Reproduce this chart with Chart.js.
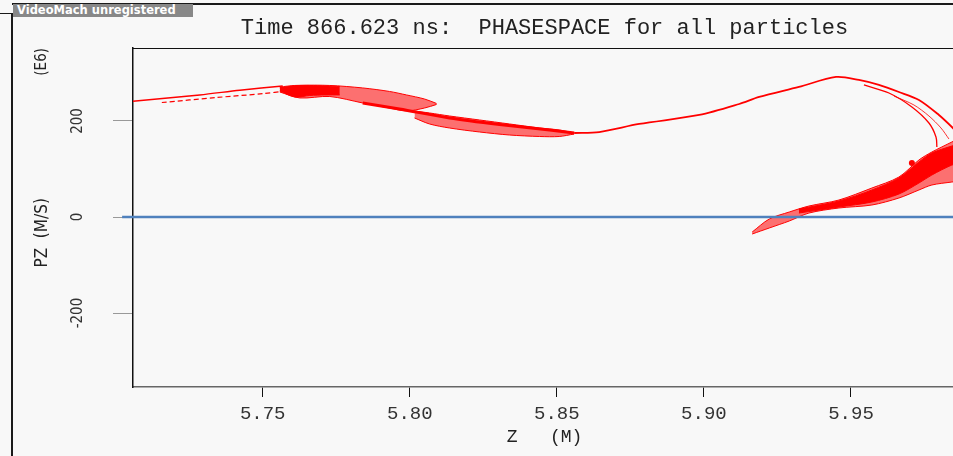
<!DOCTYPE html>
<html lang="en">
<head>
    <meta charset="UTF-8">
    <title>PHASESPACE for all particles</title>
    <script src="https://cdn.jsdelivr.net/npm/chart.js"></script>
    <style>
        body { margin: 0; background: #f8f8f8; overflow: hidden; width: 953px; height: 456px; }
        #box { position: absolute; left: 0; top: 0; width: 960px; height: 456px; }
        .linha { position: absolute; background: #1a1a1a; }
        #marca { position: absolute; left: 13px; top: 4px; width: 176px; height: 13px; padding-left: 4px;
                 background: #888; color: #fff; font: bold 11.5px "DejaVu Sans", sans-serif; line-height: 13px; white-space: nowrap; overflow: hidden; }
    </style>
</head>
<body>
    <div id="box"><canvas id="grafico"></canvas></div>
    <div class="linha" style="left:12px; top:3px; width:941px; height:2px"></div>
    <div class="linha" style="left:11px; top:13px; width:2px; height:443px"></div>
    <div class="linha" style="left:0; top:13px; width:12px; height:1px"></div>
    <div id="marca">VideoMach unregistered</div>

<script>
    const xTicks = [5.75, 5.80, 5.85, 5.90, 5.95];
    const xTickLabels = ['5.75', '5.80', '5.85', '5.90', '5.95'];
    const yTicks = [-200, 0, 200];
    const yTickLabels = ['-200', '0', '200'];

    // PZ = 0 reference line
    const zeroX = [5.7022, 5.9900];
    const zeroY = [0, 0];

    // thin tails on the left
    const tailUpperX = [5.7050, 5.7286, 5.7422, 5.7568];
    const tailUpperY = [240.5, 254.2, 264.0, 273.0];
    const tailLowerX = [5.7157, 5.7344, 5.7503, 5.7578];
    const tailLowerY = [238.5, 249.0, 257.0, 262.5];

    // first bunch (upper lobe)
    const lobeAX = [5.7558, 5.7626, 5.7728, 5.7840, 5.7931, 5.7989, 5.8050, 5.8091];
    const lobeATop = [268.8, 274.0, 274.0, 268.8, 261.5, 254.2, 245.8, 236.5];
    const lobeABot = [260.4, 248.0, 251.0, 237.5, 227.0, 220.8, 227.0, 234.4];
    const coreAX = [5.7558, 5.7609, 5.7660, 5.7711, 5.7762];
    const coreATop = [270.8, 274.0, 274.0, 273.0, 271.9];
    const coreABot = [262.5, 250.0, 253.1, 254.2, 254.2];

    // second bunch (lower lobe)
    const lobeBX = [5.8016, 5.8067, 5.8135, 5.8237, 5.8339, 5.8441, 5.8508, 5.8559];
    const lobeBTop = [220.8, 216.7, 210.4, 202.1, 193.8, 185.4, 181.3, 175.0];
    const lobeBBot = [206.3, 193.8, 185.4, 177.1, 170.8, 167.7, 167.7, 172.9];

    // dense line between the bunches, then the long arc over the top
    const diagX = [5.7840, 5.7965, 5.8135, 5.8305, 5.8475, 5.8559];
    const diagY = [237.5, 225.0, 206.3, 192.7, 181.3, 175.0];
    const arcX = [5.8559, 5.8644, 5.8780, 5.8984, 5.9120, 5.9188, 5.9323, 5.9449, 5.9527, 5.9595, 5.9663, 5.9731, 5.9799, 5.9843, 5.9870];
    const arcY = [175.0, 177.0, 193.8, 212.5, 235.4, 250.0, 270.8, 291.7, 285.4, 275.0, 260.4, 243.8, 212.5, 187.5, 170.0];
    const hook1X = [5.9544, 5.9629, 5.9707, 5.9765, 5.9789, 5.9792];
    const hook1Y = [275.0, 258.3, 229.2, 195.8, 166.7, 145.8];
    const hook2X = [5.9646, 5.9714, 5.9765, 5.9806, 5.9833];
    const hook2Y = [252.0, 233.3, 210.4, 185.4, 162.5];

    // cloud on the right
    const cloudX = [5.9164, 5.9222, 5.9290, 5.9357, 5.9459, 5.9571, 5.9663, 5.9731, 5.9775, 5.9843, 5.9870];
    const cloudTop = [-31.3, -4.2, 10.4, 22.9, 35.4, 60.4, 83.3, 118.8, 135.4, 156.3, 165.0];
    const cloudBot = [-35.4, -22.9, -8.3, 8.3, 18.8, 25.0, 39.6, 56.3, 66.7, 72.9, 75.0];
    const coreX = [5.9323, 5.9459, 5.9571, 5.9663, 5.9731, 5.9775, 5.9843, 5.9870];
    const coreTop = [16.7, 33.3, 56.3, 81.3, 114.6, 133.3, 147.9, 152.0];
    const coreBot = [8.3, 20.8, 31.3, 47.9, 70.8, 87.5, 108.3, 112.0];
    const bumpX = [5.9707];
    const bumpY = [112.5];

    const vermelho = '#ff0000';
    const hachura = 'rgba(255, 0, 0, 0.55)';
    const estreita = '"Liberation Sans Narrow", "DejaVu Sans Condensed", "DejaVu Sans", sans-serif';
    const mono = '"Liberation Mono", "DejaVu Sans Mono", monospace';

    function pontos(xs, ys) {
        return xs.map((x, i) => ({ x: x, y: ys[i] }));
    }

    function serie(xs, ys, extra) {
        return Object.assign({
            data: pontos(xs, ys),
            xAxisID: 'x',
            yAxisID: 'y',
            borderColor: vermelho,
            borderWidth: 1,
            pointRadius: 0,
            tension: 0.3,
            fill: false
        }, extra);
    }

    const datasets = [
        serie(zeroX, zeroY, { borderColor: '#4f81bd', borderWidth: 2.5, tension: 0, clip: { left: 12, top: 0, right: 0, bottom: 0 } }),
        serie(bumpX, bumpY, { showLine: false, pointRadius: 3, pointBackgroundColor: vermelho, pointBorderWidth: 0 }),
        serie(hook1X, hook1Y, { borderWidth: 1.3 }),
        serie(hook2X, hook2Y, { borderWidth: 1, borderColor: 'rgba(255, 0, 0, 0.8)' }),
        serie(arcX, arcY, { borderWidth: 1.8 }),
        serie(diagX, diagY, { borderWidth: 3 }),
        serie(tailUpperX, tailUpperY, { borderWidth: 1.4 }),
        serie(tailLowerX, tailLowerY, { borderWidth: 1.2, borderDash: [5, 3] }),
        serie(coreX, coreTop),
        serie(coreX, coreBot, { fill: '-1', backgroundColor: vermelho }),
        serie(cloudX, cloudTop),
        serie(cloudX, cloudBot, { fill: '-1', backgroundColor: hachura }),
        serie(coreAX, coreATop),
        serie(coreAX, coreABot, { fill: '-1', backgroundColor: vermelho }),
        serie(lobeAX, lobeATop),
        serie(lobeAX, lobeABot, { fill: '-1', backgroundColor: hachura }),
        serie(lobeBX, lobeBTop),
        serie(lobeBX, lobeBBot, { fill: '-1', backgroundColor: hachura })
    ];

    const ctx = document.getElementById('grafico');
    new Chart(ctx, {
        type: 'line',
        data: { datasets: datasets },
        options: {
            responsive: true,
            maintainAspectRatio: false,
            animation: false,
            layout: { padding: { left: 0, right: 3, top: 0, bottom: 0 } },
            plugins: {
                legend: { display: false },
                tooltip: { enabled: false },
                title: {
                    display: true,
                    position: 'left',
                    text: 'PZ  (M/S)  ',
                    color: '#222',
                    font: { family: estreita, size: 17, weight: 'normal' },
                    padding: { top: 32, bottom: 0 }
                }
            },
            scales: {
                x: {
                    type: 'linear',
                    position: 'bottom',
                    min: 5.7059,
                    max: 5.9857,
                    afterBuildTicks: s => { s.ticks = xTicks.map(v => ({ value: v })); },
                    afterFit: s => { s.height = 69; },
                    grid: { drawOnChartArea: false, tickLength: 10, color: '#111' },
                    border: { display: true, color: '#666', width: 1.5 },
                    ticks: {
                        padding: 6,
                        minRotation: 0,
                        maxRotation: 0,
                        color: '#333',
                        font: { family: mono, size: 19 },
                        callback: (v, i) => xTickLabels[i]
                    },
                    title: {
                        display: true,
                        text: 'Z   (M)',
                        color: '#222',
                        font: { family: mono, size: 18 },
                        padding: { top: 0, bottom: 8 }
                    }
                },
                x2: {
                    type: 'linear',
                    position: 'top',
                    min: 5.7059,
                    max: 5.9857,
                    afterFit: s => { s.height = 48; },
                    grid: { display: false },
                    border: { display: true, color: '#111', width: 1 },
                    ticks: { display: false },
                    title: {
                        display: true,
                        text: 'Time 866.623 ns:  PHASESPACE for all particles',
                        color: '#222',
                        font: { family: mono, size: 22 },
                        padding: { top: 15, bottom: 0 }
                    }
                },
                y: {
                    type: 'linear',
                    position: 'left',
                    min: -354,
                    max: 352,
                    afterBuildTicks: s => { s.ticks = yTicks.map(v => ({ value: v })); },
                    afterFit: s => { s.width = 80.6; },
                    grid: { drawOnChartArea: false, tickLength: 20, color: '#999' },
                    border: { display: true, color: '#111', width: 1.5 },
                    ticks: {
                        padding: 20,
                        crossAlign: 'center',
                        minRotation: 90,
                        maxRotation: 90,
                        color: '#333',
                        font: { family: estreita, size: 15 },
                        callback: (v, i) => yTickLabels[i]
                    },
                    title: {
                        display: true,
                        text: '(E6)',
                        align: 'end',
                        color: '#222',
                        font: { family: estreita, size: 15 },
                        padding: { top: -19.4, bottom: 0 }
                    }
                }
            }
        }
    });
</script>
</body>
</html>
